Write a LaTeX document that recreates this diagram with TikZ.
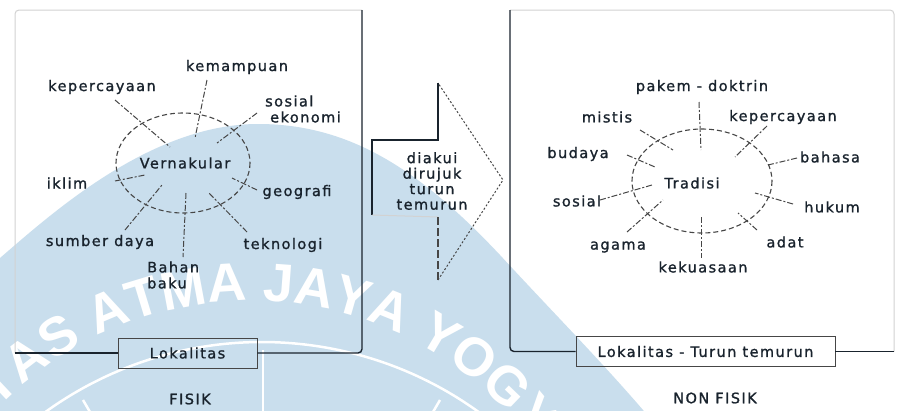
\documentclass[tikz,border=0pt]{standalone}
\usepackage{fontspec}
\setmainfont{DejaVu Sans}[LetterSpace=10, FakeBold=1.2]
\newfontfamily\wmfont{Liberation Sans}
\usetikzlibrary{decorations.text,calc}
\definecolor{wmblue}{RGB}{201,222,237}
\definecolor{ink}{RGB}{25,35,45}
\definecolor{faint}{RGB}{210,210,210}
\definecolor{mid}{RGB}{70,70,70}
\begin{document}
\begin{tikzpicture}[x=1pt,y=-1pt,
  lbl/.style={font=\fontsize{14.5}{15.5}\selectfont, text=ink, inner sep=0pt},
  ring/.style={draw=mid, line width=1.1pt, dash pattern=on 5pt off 3pt},
  spoke/.style={draw=mid, line width=1pt, dash pattern=on 6pt off 2pt on 2pt off 2pt},
  frame/.style={draw=ink, line width=1.4pt},
  frameedge/.style={draw=faint, line width=1pt},
  tagbox/.style={draw=mid, line width=0.9pt, lbl, minimum height=30pt},
  sealline/.style={draw=white, line width=2.5pt},
]
\useasboundingbox (0,0) rectangle (899,410);
\fill[white] (0,0) rectangle (899,410);

% background seal
\begin{scope}
  \clip (0,0) rectangle (899,410);
  \fill[wmblue] (0,258) .. controls (50,215) and (150,124) .. (258,124)
    .. controls (350,124) and (420,170) .. (500,255)
    .. controls (560,320) and (610,370) .. (660,430) -- (0,430) -- cycle;
  \coordinate (ringc) at (262,712);
  \coordinate (textc) at (251,653);
  \draw[sealline] ($(ringc)+(130:370pt)$) arc[start angle=130, end angle=45, radius=370pt];
  \draw[sealline] (263,350) -- (263,412);
  \draw[sealline] (83,400) -- (90,412);
  \draw[sealline] (440,400) -- (433,412);
  \path[decorate, decoration={text along path, text color=white,
      text={|\wmfont\bfseries\fontsize{54}{54}\selectfont|UNIVERSITAS ATMA JAYA YOGYAKARTA}}]
    ($(textc)+(177.5:352pt)$) arc[start angle=177.5, end angle=-20, radius=352pt];
\end{scope}

% ---------- FISIK panel ----------
\node[tagbox, minimum width=139pt] (lok) at (187.5,353) {Lokalitas};
\draw[frameedge, rounded corners=4pt] (15,353) -- (15,10) -- (362,10);
\draw[frame, rounded corners=4pt] (lok.east) -- (362,353) -- (362,10);
\draw[frame] (lok.west) -- (15,353);
\node[lbl] (fisik) at (190,399) {FISIK};

\draw[ring] (183,163) ellipse[x radius=67, y radius=50];
\node[lbl] (vern) at (185,163) {Vernakular};

\node[lbl] (l1) at (102,87) {kepercayaan};
\node[lbl] (l2) at (237,67) {kemampuan};
\node[lbl, anchor=west] (l3a) at (265,101) {sosial};
\node[lbl, anchor=west] (l3b) at (270,117) {ekonomi};
\node[lbl] (l4) at (67,183) {iklim};
\node[lbl] (l5) at (297,192) {geografi};
\node[lbl] (l6) at (100,242) {sumber daya};
\node[lbl] (l7) at (283,245) {teknologi};
\node[lbl, anchor=west] (l8a) at (147,267) {Bahan};
\node[lbl, anchor=west] (l8b) at (147,283) {baku};

\draw[spoke] (115,100) -- (170,147);
\draw[spoke] (207,80) -- (195,138);
\draw[spoke] (257,113) -- (217,143);
\draw[spoke] (115,181) -- (145,175);
\draw[spoke] (257,190) -- (232,178);
\draw[spoke] (125,230) -- (162,185);
\draw[spoke] (247,232) -- (208,192);
\draw[spoke] (186,193) -- (183,257);

% ---------- transfer arrow ----------
\coordinate (a1) at (438,83);
\coordinate (a2) at (438,140);
\coordinate (a3) at (372,140);
\coordinate (a4) at (372,215);
\coordinate (a5) at (438,217);
\coordinate (a6) at (438,280);
\coordinate (tip) at (503,180);
\draw[ink, line width=1.2pt] (a1) -- (a2) -- (a3) -- (a4);
\draw[faint, line width=1pt] (a4) -- (a5);
\draw[mid, line width=1.1pt, dash pattern=on 8pt off 3pt] (a5) -- (a6);
\draw[mid, line width=1pt, dash pattern=on 2pt off 2pt] (a6) -- (tip) -- (a1);
\node[lbl, align=center] (pass) at (432,181) {diakui\\dirujuk\\turun\\temurun};

% ---------- NON FISIK panel ----------
\node[tagbox, minimum width=259pt] (ltt) at (705.5,351.5) {Lokalitas - Turun temurun};
\draw[frameedge, rounded corners=4pt] (510,10) -- (894,10) -- (894,351.5);
\draw[frame, rounded corners=4pt] (ltt.west) -- (510,351.5) -- (510,10);
\draw[frame] (ltt.east) -- (894,351.5);
\node[lbl] (nonfisik) at (715,398) {NON FISIK};

\draw[ring] (702,181) ellipse[x radius=70, y radius=52];
\node[lbl] (trad) at (692,183) {Tradisi};

\node[lbl] (r1) at (702,87) {pakem - doktrin};
\node[lbl] (r2) at (607,117) {mistis};
\node[lbl] (r3) at (783,117) {kepercayaan};
\node[lbl] (r4) at (578,154) {budaya};
\node[lbl] (r5) at (830,157) {bahasa};
\node[lbl] (r6) at (577,201) {sosial};
\node[lbl] (r7) at (832,207) {hukum};
\node[lbl] (r8) at (618,247) {agama};
\node[lbl] (r9) at (785,242) {adat};
\node[lbl] (r10) at (703,267) {kekuasaan};

\draw[spoke] (699,102) -- (701,150);
\draw[spoke] (767,126) -- (735,157);
\draw[spoke] (640,130) -- (673,150);
\draw[spoke] (627,155) -- (655,167);
\draw[spoke] (797,158) -- (768,165);
\draw[spoke] (600,200) -- (652,185);
\draw[spoke] (793,204) -- (755,193);
\draw[spoke] (627,232) -- (663,200);
\draw[spoke] (757,230) -- (738,213);
\draw[spoke] (701,217) -- (701,258);
\end{tikzpicture}
\end{document}
